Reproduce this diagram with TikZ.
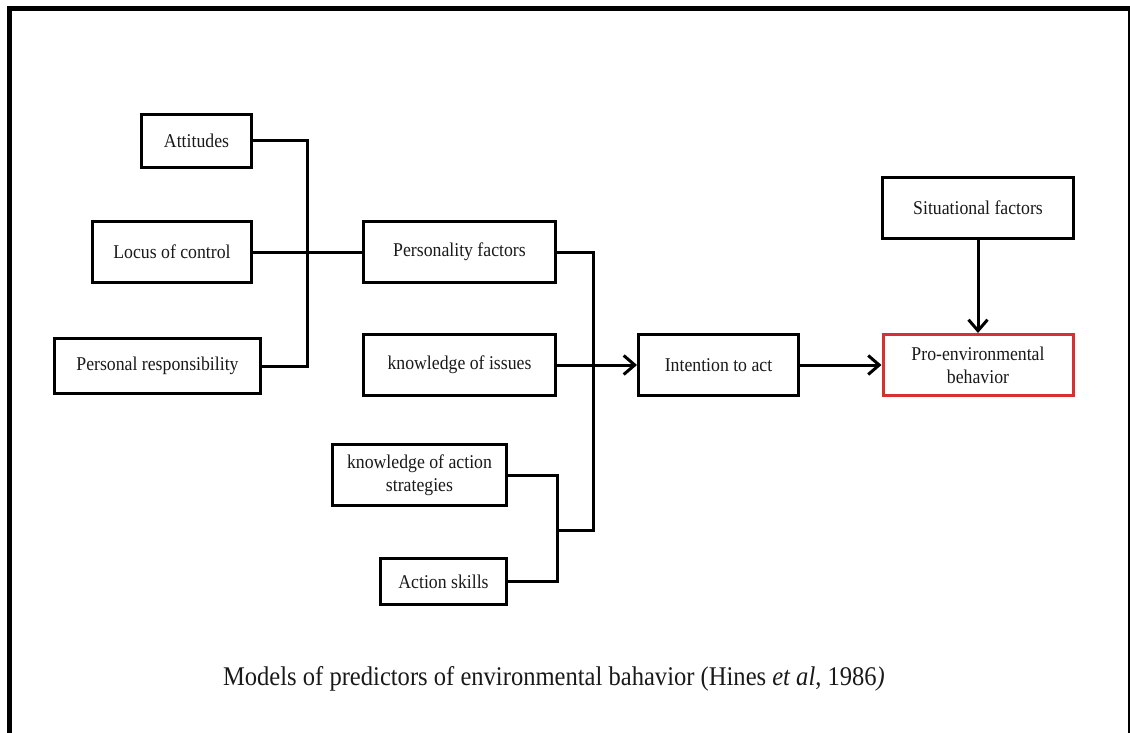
\documentclass[tikz,border=0pt]{standalone}
\usepackage{fontspec}
\setmainfont{Liberation Serif}[FakeStretch=0.91]
\usetikzlibrary{arrows.meta}
\definecolor{boxred}{RGB}{214,48,48}
\definecolor{ink}{RGB}{25,25,25}
\tikzset{
  box/.style={draw=black, line width=3pt, rectangle, inner sep=0pt, align=center,
    font=\fontsize{19.5}{23}\selectfont, text=ink},
  conn/.style={draw=black, line width=3pt},
  arr/.style={conn, -{Straight Barb[length=11pt,width=19pt]}},
}
\begin{document}
\begin{tikzpicture}[x=1pt,y=-1pt]
\useasboundingbox (0,0) rectangle (1130,733);
\begin{scope}
\clip (0,0) rectangle (1130,733);
\draw[line width=5pt] (9.5,745) -- (9.5,8.5) -- (1130.5,8.5) -- (1130.5,745);
\end{scope}
\node[box, minimum width=110pt, minimum height=53pt] (att) at (196.5,141) {Attitudes};
\node[box, minimum width=159pt, minimum height=61pt] (loc) at (172,252) {Locus of control};
\node[box, minimum width=206pt, minimum height=55pt] (pr) at (157.5,366) {Personal responsibility};
\node[box, minimum width=192pt, minimum height=61pt] (pf) at (459.5,252) {Personality factors};
\node[box, minimum width=192pt, minimum height=61pt] (ki) at (459.5,365) {knowledge of issues};
\node[box, minimum width=174pt, minimum height=61pt] (kas) at (419.5,475) {knowledge of action\\strategies};
\node[box, minimum width=126pt, minimum height=46pt] (as) at (443.5,581.5) {Action skills};
\node[box, minimum width=160pt, minimum height=61pt] (ita) at (718.5,365) {Intention to act};
\node[box, minimum width=191pt, minimum height=61pt] (sf) at (978,208) {Situational factors};
\node[box, draw=boxred, minimum width=190pt, minimum height=61pt] (peb) at (978,365) {Pro-environmental\\behavior};
\coordinate (j1) at (307,252);
\coordinate (j2) at (593,530);
\coordinate (j3) at (557,530);
\draw[conn] (att.east) -| (j1) |- (pr.east);
\draw[conn] (loc.east) -- (pf.west);
\draw[conn] (pf.east) -| (j2) -- (j3);
\draw[conn] (kas.east) -| (j3) |- (as.east);
\draw[arr] (ki.east) -- (ita.west);
\draw[arr] (ita.east) -- (peb.west);
\draw[arr] (sf.south) -- (peb.north);
\node[font=\fontsize{27}{30}\selectfont, text=ink, anchor=base, inner sep=0pt] (cap) at (554,685)
  {Models of predictors of environmental bahavior (Hines \textit{et al}, 1986\textit{)}};
\end{tikzpicture}
\end{document}
